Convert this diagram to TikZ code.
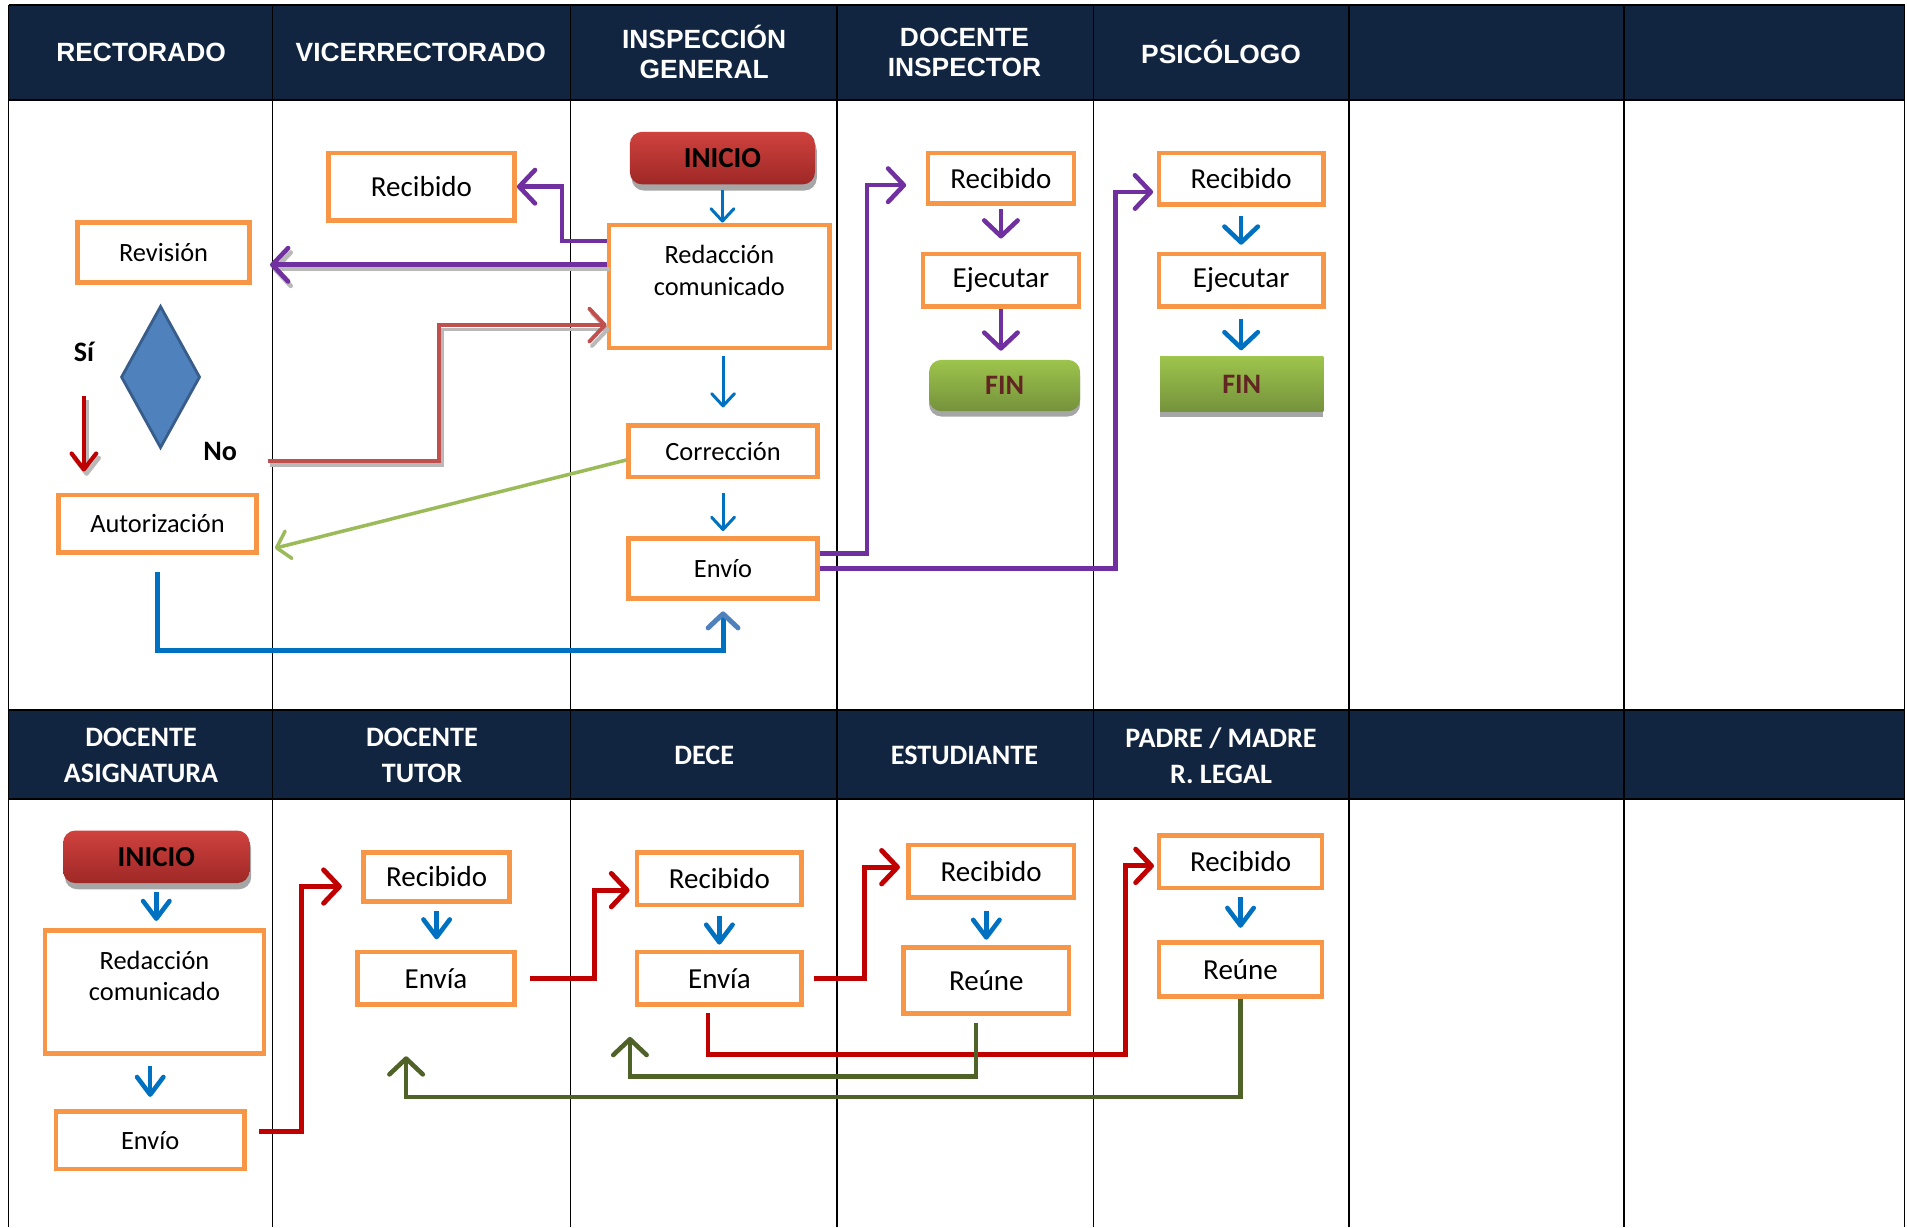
\documentclass[tikz,border=0pt]{standalone}
\usepackage{fontspec}
\setmainfont{Carlito}
\newfontfamily\headfont{Liberation Sans}
\usetikzlibrary{arrows.meta,shapes.geometric,shadows}

\definecolor{navy}{RGB}{17,36,64}
\definecolor{boxorange}{RGB}{247,150,70}
\definecolor{flowviolet}{RGB}{112,48,160}
\definecolor{flowblue}{RGB}{0,112,192}
\definecolor{rose}{RGB}{192,80,77}
\definecolor{deepred}{RGB}{192,0,0}
\definecolor{leaf}{RGB}{155,187,89}
\definecolor{olive}{RGB}{79,98,40}
\definecolor{steel}{RGB}{79,129,189}
\definecolor{steeldark}{RGB}{56,93,138}
\definecolor{finbrown}{RGB}{99,37,35}
\definecolor{iniciotop}{RGB}{207,66,62}
\definecolor{iniciobot}{RGB}{158,40,38}
\definecolor{fintop}{RGB}{157,196,76}
\definecolor{finbot}{RGB}{117,146,60}

\begin{document}
\begin{tikzpicture}[x=0.0243cm,y=-0.0243cm,
  grid line/.style={line width=1pt},
  head/.style={text=white,align=center,font=\headfont\bfseries\fontsize{15}{17}\selectfont},
  head low/.style={text=white,align=center,font=\bfseries\fontsize{16}{20.5}\selectfont},
  dims/.style 2 args={minimum width=#1*0.0243cm-2.6pt,minimum height=#2*0.0243cm-2.6pt},
  box/.style={draw=boxorange,line width=2.6pt,fill=white,inner sep=1pt,align=center,
    font=\fontsize{15}{18}\selectfont},
  big box/.style={box,font=\fontsize{16.5}{19}\selectfont},
  start node/.style={rounded corners=7pt,top color=iniciotop,bottom color=iniciobot,
    font=\bfseries\fontsize{16.5}{19}\selectfont,
    drop shadow={shadow xshift=1pt,shadow yshift=-3.5pt,fill=gray!70,opacity=1}},
  end node/.style={top color=fintop,bottom color=finbot,text=finbrown,
    font=\bfseries\fontsize{16}{19}\selectfont,
    drop shadow={shadow xshift=0pt,shadow yshift=-3pt,fill=gray!70,opacity=1}},
  flow/.style={line width=2.6pt,-{Straight Barb[round,length=9pt,width=19pt]}},
  thin flow/.style={draw=flowblue,line width=1.7pt,-{Straight Barb[round,length=7pt,width=13pt]}},
  drop flow/.style={draw=flowblue,line width=2.6pt,-{Straight Barb[round,length=10pt,width=15pt]}},
  shade line/.style={draw=gray!55,transform canvas={xshift=1.5pt,yshift=-2.5pt}},
  mark text/.style={font=\bfseries\fontsize{16}{19}\selectfont}]

  \useasboundingbox (0,0) rectangle (1568,1009);

  % lanes
  \fill[navy] (7,4) rectangle (1566,82);
  \fill[navy] (7,584) rectangle (1566,657);
  \foreach \x in {7,224,469,688,899,1109,1335,1566}
    \draw[grid line] (\x,4) -- (\x,1009);
  \foreach \y in {4,82,584,657}
    \draw[grid line] (7,\y) -- (1566,\y);

  \node[head] (h1) at (116,43) {RECTORADO};
  \node[head] (h2) at (346,43) {VICERRECTORADO};
  \node[head] (h3) at (579,43) {INSPECCIÓN\\GENERAL};
  \node[head] (h4) at (793,43) {DOCENTE\\INSPECTOR};
  \node[head] (h5) at (1004,43) {PSICÓLOGO};
  \node[head low] (h6) at (116,621) {DOCENTE\\ASIGNATURA};
  \node[head low] (h7) at (347,621) {DOCENTE\\TUTOR};
  \node[head low] (h8) at (579,621) {DECE};
  \node[head low] (h9) at (793,621) {ESTUDIANTE};
  \node[head low] (h10) at (1004,621) {PADRE / MADRE\\R. LEGAL};

  % upper part
  \node[big box,dims={157}{59}] (recVR) at (346.5,153.5) {Recibido};
  \node[start node,dims={156}{47}] (iniIG) at (594,130) {INICIO};
  \node[box,dims={185}{105}] (redIG) at (591.5,235.5) {Redacción\\comunicado\\\mbox{}};
  \node[box,dims={145}{53}] (revR) at (134.5,207.5) {Revisión};
  \node[diamond,draw=steeldark,fill=steel,line width=1.6pt,inner sep=0pt,
    minimum width=1.58cm,minimum height=2.84cm] (diaR) at (132,310) {};
  \node[mark text] (si) at (69,289) {Sí};
  \node[mark text] (no) at (181,371) {No};
  \node[box,dims={167}{51}] (autR) at (129.5,430.5) {Autorización};
  \node[box,dims={159}{46}] (corIG) at (594.5,371) {Corrección};
  \node[box,dims={159}{53}] (envIG) at (594.5,467.5) {Envío};
  \node[big box,dims={124}{45}] (recDI) at (823,146.5) {Recibido};
  \node[big box,dims={132}{47}] (ejeDI) at (823,230.5) {Ejecutar};
  \node[end node,rounded corners=7pt,dims={128}{46}] (finDI) at (826,317) {FIN};
  \node[big box,dims={139}{46}] (recPS) at (1020.5,147) {Recibido};
  \node[big box,dims={139}{47}] (ejePS) at (1020.5,230.5) {Ejecutar};
  \node[end node,dims={138}{49}] (finPS) at (1021,316) {FIN};

  % lower part
  \node[start node,dims={157}{47}] (iniDA) at (128.5,704.5) {INICIO};
  \node[box,dims={184}{105}] (redDA) at (127,815.5) {Redacción\\comunicado\\\mbox{}};
  \node[box,dims={159}{51}] (envDA) at (123.5,937.5) {Envío};
  \node[big box,dims={124}{44}] (recDT) at (359,721) {Recibido};
  \node[big box,dims={133}{47}] (envDT) at (358.5,804.5) {Envía};
  \node[big box,dims={139}{47}] (recDC) at (591.5,722.5) {Recibido};
  \node[big box,dims={139}{47}] (envDC) at (591.5,804.5) {Envía};
  \node[big box,dims={140}{47}] (recES) at (815,716.5) {Recibido};
  \node[big box,dims={140}{58}] (reuES) at (811,806) {Reúne};
  \node[big box,dims={138}{47}] (recPM) at (1020,708.5) {Recibido};
  \node[big box,dims={138}{48}] (reuPM) at (1020,797) {Reúne};

  \coordinate (laneR) at (222,0);
  \coordinate (no out) at (220,379);
  \coordinate (rv out) at ([yshift=-24pt]redIG.north west);

  % arrows, upper part
  \draw[thin flow,shorten <=3pt] (iniIG.south) -- (iniIG.south |- redIG.north);
  \draw[thin flow,shorten <=3.5pt,shorten >=9pt] (corIG.north |- redIG.south) -- (corIG.north);
  \draw[thin flow,shorten <=8pt,shorten >=3pt] (corIG.south) -- (corIG.south |- envIG.north);
  \draw[flow,draw=flowviolet] ([yshift=-10.4pt]redIG.north west) -- ++(-37,0) |- (recVR.east);
  \draw[flow,shade line] (rv out) -- (rv out -| laneR);
  \draw[flow,draw=flowviolet] (rv out) -- (rv out -| laneR);
  \draw[flow,line width=2.2pt,shade line] (no out) -- ++(141,0) |- ([yshift=-22pt]redIG.west);
  \draw[flow,draw=rose,line width=2.2pt] (no out) -- ++(141,0) |- ([yshift=-22pt]redIG.west);
  \draw[line width=2.4pt,shade line,shorten <=16pt,shorten >=12pt,
    -{Straight Barb[round,length=9pt,width=14pt]}] (si.south) -- (si.south |- autR.north);
  \draw[draw=deepred,line width=2.4pt,shorten <=16pt,shorten >=12pt,
    -{Straight Barb[round,length=9pt,width=14pt]}] (si.south) -- (si.south |- autR.north);
  \draw[draw=leaf,line width=2pt,-{Straight Barb[round,length=7pt,width=16pt]}]
    ([yshift=-5pt]corIG.west) -- ([xshift=9pt,yshift=-14pt]autR.east);
  \draw[draw=flowblue,line width=2.8pt,shorten <=10pt,shorten >=6pt,
    -{Straight Barb[round,length=8pt,width=17pt,color=steel]}] (autR.south) -- ++(0,79) -| (envIG.south);
  \draw[flow,draw=flowviolet,shorten >=11pt] ([yshift=8.6pt]envIG.east) -- ++(39,0) |- ([yshift=-4pt]recDI.west);
  \draw[flow,draw=flowviolet,shorten >=2pt] (envIG.east) -- ++(243,0) |- ([yshift=-7.5pt]recPS.west);
  \draw[flow,draw=flowviolet,shorten <=2pt,shorten >=7.5pt] (recDI.south) -- (recDI.south |- ejeDI.north);
  \draw[flow,draw=flowviolet,shorten >=5pt] (ejeDI.south) -- (ejeDI.south |- finDI.north);
  \draw[flow,draw=flowblue,shorten <=5pt,shorten >=4pt] (recPS.south) -- (recPS.south |- ejePS.north);
  \draw[flow,draw=flowblue,shorten <=5.5pt,shorten >=3.5pt] (ejePS.south) -- (ejePS.south |- finPS.north);

  % arrows, lower part
  \draw[drop flow,shorten <=5pt,shorten >=4pt] (iniDA.south) -- (iniDA.south |- redDA.north);
  \draw[drop flow,shorten <=6pt,shorten >=7pt] (envDA.north |- redDA.south) -- (envDA.north);
  \draw[drop flow,shorten <=4pt,shorten >=6pt] (recDT.south) -- (recDT.south |- envDT.north);
  \draw[drop flow,shorten <=5pt,shorten >=3pt] (recDC.south) -- (recDC.south |- envDC.north);
  \draw[drop flow,shorten <=6pt,shorten >=3pt] (reuES.north |- recES.south) -- (reuES.north);
  \draw[drop flow,shorten <=4pt,shorten >=7pt] (recPM.south) -- (recPM.south |- reuPM.north);
  \draw[flow,draw=deepred,line width=2.8pt,shorten <=7pt,shorten >=11pt]
    ([yshift=5pt]envDA.east) -- ++(45,0) |- ([yshift=-5.5pt]recDT.west);
  \draw[flow,draw=deepred,line width=2.8pt,shorten <=7.5pt,shorten >=3pt]
    (envDT.east) -- ++(64,0) |- ([yshift=-6.5pt]recDC.west);
  \draw[flow,draw=deepred,line width=2.8pt,shorten <=5.5pt,shorten >=3.5pt]
    (envDC.east) -- ++(50,0) |- ([yshift=2.4pt]recES.west);
  \draw[flow,draw=deepred,line width=2.8pt,shorten <=3.5pt,shorten >=1.5pt]
    ([xshift=-6.5pt]envDC.south) -- ++(0,39) -- ++(343,0) |- ([yshift=-2.4pt]recPM.west);
  \draw[flow,draw=olive,shorten <=4pt]
    ([xshift=-6pt]reuES.south) -- ++(0,50) -| ([xshift=-2.8pt,yshift=-17pt]envDC.south west);
  \draw[flow,draw=olive]
    (reuPM.south) -- ++(0,81) -| ([xshift=-17pt,yshift=-28pt]envDT.south);
\end{tikzpicture}
\end{document}
